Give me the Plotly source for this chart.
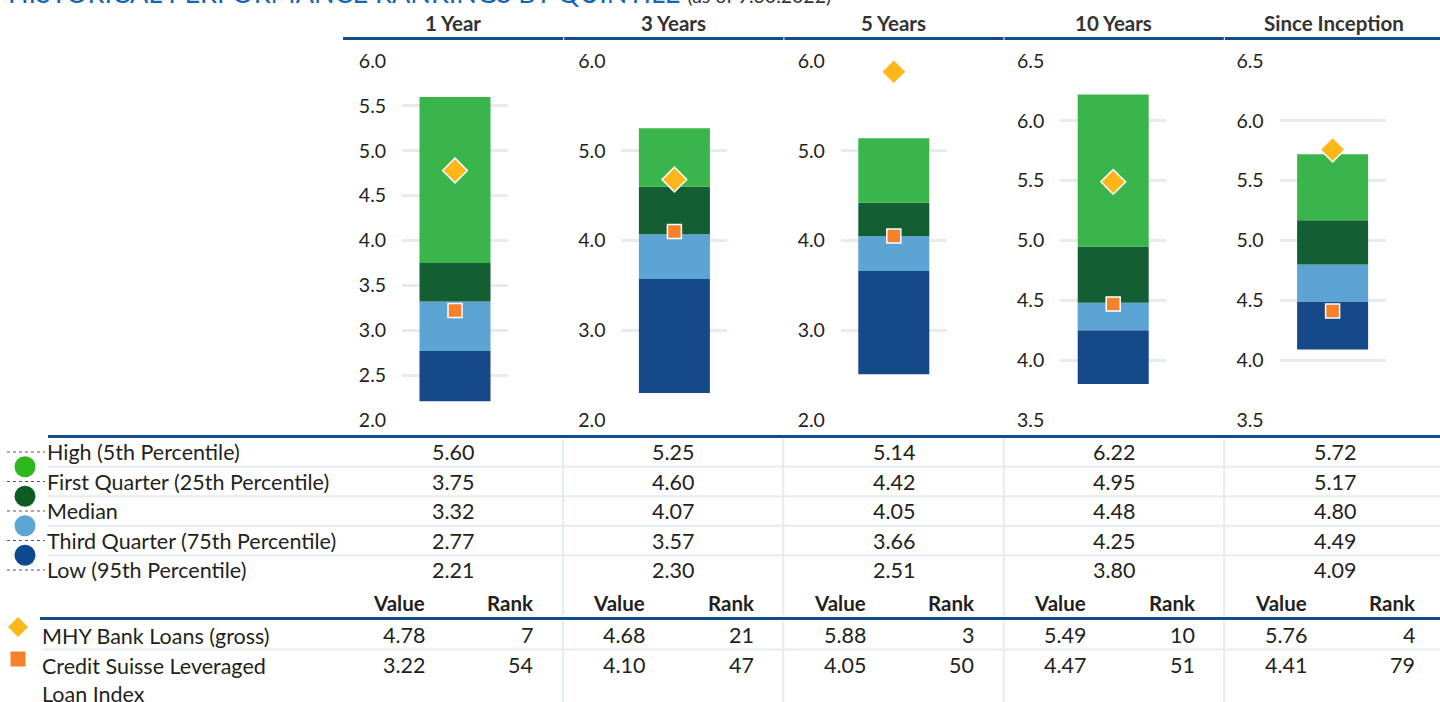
import plotly.graph_objects as go

# ---------------- data ----------------
periods = ["1 Year", "3 Years", "5 Years", "10 Years", "Since Inception"]
high = [5.60, 5.25, 5.14, 6.22, 5.72]
first_q = [3.75, 4.60, 4.42, 4.95, 5.17]
median = [3.32, 4.07, 4.05, 4.48, 4.80]
third_q = [2.77, 3.57, 3.66, 4.25, 4.49]
low = [2.21, 2.30, 2.51, 3.80, 4.09]
mhy_value = [4.78, 4.68, 5.88, 5.49, 5.76]
mhy_rank = [7, 21, 3, 10, 4]
cs_value = [3.22, 4.10, 4.05, 4.47, 4.41]
cs_rank = [54, 47, 50, 51, 79]
y_min = [2.0, 2.0, 2.0, 3.5, 3.5]
y_max = [6.0, 6.0, 6.0, 6.5, 6.5]
y_step = [0.5, 1.0, 1.0, 0.5, 0.5]
quantile_labels = ["High (5th Percentile)", "First Quarter (25th Percentile)", "Median",
                   "Third Quarter (75th Percentile)", "Low (95th Percentile)"]
series_labels = ["MHY Bank Loans (gross)", "Credit Suisse Leveraged<br>Loan Index"]
title_main = "HISTORICAL PERFORMANCE RANKINGS BY QUINTILE"
title_sub = "(as of 9.30.2022)"

# ---------------- styling ----------------
W, H = 1440, 702
C_HIGH = "#3AB54B"
C_Q1 = "#135F33"
C_MED = "#5BA4D4"
C_Q3 = "#154989"
LEG_COLORS = ["#2DB81E", "#0B5D24", "#5CA6D6", "#0D4A8D"]
C_DIAMOND = "#FDB71A"
C_SQUARE = "#F5822A"
BLUE_LINE = "#134C8E"
LIGHT = "#E4ECEE"
TXT = "#231F20"
FONT = "Lato"
FS = 21.5


def X(p):
    return p / W


def Y(p):
    return 1 - p / H


fig = go.Figure()
shapes = []
annotations = []

panel_step = 219.4
for i in range(5):
    ax = "" if i == 0 else str(i + 1)
    xa, ya = "x" + ax, "y" + ax
    segs = [
        (low[i], third_q[i] - low[i], C_Q3),
        (third_q[i], median[i] - third_q[i], C_MED),
        (median[i], first_q[i] - median[i], C_Q1),
        (first_q[i], high[i] - first_q[i], C_HIGH),
    ]
    for base, h, col in segs:
        fig.add_trace(go.Bar(x=[0], y=[h], base=[base], width=0.67, marker_color=col,
                             marker_line_width=0, xaxis=xa, yaxis=ya, hoverinfo="skip"))
    fig.add_trace(go.Scatter(x=[0], y=[cs_value[i]], mode="markers", xaxis=xa, yaxis=ya,
                             marker=dict(symbol="square", size=14, color=C_SQUARE,
                                         line=dict(color="white", width=1.5)),
                             cliponaxis=False, hoverinfo="skip"))
    fig.add_trace(go.Scatter(x=[0], y=[mhy_value[i]], mode="markers", xaxis=xa, yaxis=ya,
                             marker=dict(symbol="diamond", size=19, color=C_DIAMOND,
                                         line=dict(color="white", width=1.5)),
                             cliponaxis=False, hoverinfo="skip"))
    x0 = 402 + panel_step * i
    fig.layout["xaxis" + ax] = dict(domain=[X(x0), X(x0 + 106)], range=[-0.5, 0.5],
                                     visible=False, fixedrange=True, automargin=False)
    fig.layout["yaxis" + ax] = dict(domain=[Y(420), Y(61)], range=[y_min[i], y_max[i]],
                                     dtick=y_step[i], tick0=y_min[i], tickformat=".1f",
                                     anchor=xa, showgrid=True, gridcolor=LIGHT, gridwidth=3,
                                     zeroline=False, showline=False, ticks="outside",
                                     ticklen=11, tickcolor="rgba(0,0,0,0)", automargin=False,
                                     tickfont=dict(family=FONT, size=19.5, color=TXT),
                                     fixedrange=True)

# ---------------- headers ----------------
col_step = 220.2
for i, p in enumerate(periods):
    cx = 453 + col_step * i
    annotations.append(dict(x=X(cx), y=Y(23), xref="paper", yref="paper", text=p,
                            showarrow=False, xanchor="center", yanchor="middle",
                            font=dict(family=FONT, size=20.5, color="#333333", weight="bold")))
    shapes.append(dict(type="line", xref="paper", yref="paper",
                       x0=X(343 + col_step * i + (1 if i else 0)), x1=X(343 + col_step * (i + 1)),
                       y0=Y(38.5), y1=Y(38.5), line=dict(color=BLUE_LINE, width=3)))

# title (cut off at the top edge, as in the reference)
annotations.append(dict(x=X(6), y=Y(-7.5), xref="paper", yref="paper",
                        text=title_main + " <span style='font-size:19.5px;color:#333333'>" + title_sub + "</span>",
                        showarrow=False, xanchor="left", yanchor="middle",
                        font=dict(family=FONT, size=27, color="#1566B0")))

# ---------------- quantile table ----------------
row_y = [452, 481.5, 511, 540.5, 570]
shapes.append(dict(type="line", xref="paper", yref="paper", x0=X(48), x1=X(1440),
                   y0=Y(436.5), y1=Y(436.5), line=dict(color=BLUE_LINE, width=3)))
for k in range(4):
    yy = (row_y[k] + row_y[k + 1]) / 2
    shapes.append(dict(type="line", xref="paper", yref="paper", x0=X(48), x1=X(1440),
                       y0=Y(yy), y1=Y(yy), line=dict(color=LIGHT, width=2)))
for i in range(1, 5):
    vx = 342.5 + 220.4 * i
    shapes.append(dict(type="line", xref="paper", yref="paper", x0=X(vx), x1=X(vx),
                       y0=Y(438.5), y1=Y(615), line=dict(color=LIGHT, width=2)))
    shapes.append(dict(type="line", xref="paper", yref="paper", x0=X(vx), x1=X(vx),
                       y0=Y(621), y1=Y(702), line=dict(color=LIGHT, width=2)))

quant_rows = [high, first_q, median, third_q, low]
for k, lab in enumerate(quantile_labels):
    annotations.append(dict(x=X(45), y=Y(row_y[k]), xref="paper", yref="paper", text=lab,
                            showarrow=False, xanchor="left", yanchor="middle",
                            font=dict(family=FONT, size=FS, color=TXT)))
    shapes.append(dict(type="line", xref="paper", yref="paper", x0=X(7), x1=X(45),
                       y0=Y(row_y[k]), y1=Y(row_y[k]),
                       line=dict(color="#555555", width=1, dash="dot")))
    for i in range(5):
        annotations.append(dict(x=X(452.5 + 220.5 * i), y=Y(row_y[k]), xref="paper", yref="paper",
                                text=f"{quant_rows[k][i]:.2f}", showarrow=False,
                                xanchor="center", yanchor="middle",
                                font=dict(family=FONT, size=FS, color=TXT)))
for k in range(4):
    cy = (row_y[k] + row_y[k + 1]) / 2
    r = 10.5
    shapes.append(dict(type="circle", xref="paper", yref="paper", x0=X(25 - r), x1=X(25 + r),
                       y0=Y(cy + r), y1=Y(cy - r), fillcolor=LEG_COLORS[k], line=dict(width=0)))

# ---------------- series table ----------------
for i in range(5):
    annotations.append(dict(x=X(427 + 220.4 * i), y=Y(603), xref="paper", yref="paper",
                            text="Value", showarrow=False, xanchor="right", yanchor="middle",
                            font=dict(family=FONT, size=20.5, color=TXT, weight="bold")))
    annotations.append(dict(x=X(535 + 220.6 * i), y=Y(603), xref="paper", yref="paper",
                            text="Rank", showarrow=False, xanchor="right", yanchor="middle",
                            font=dict(family=FONT, size=20.5, color=TXT, weight="bold")))
shapes.append(dict(type="line", xref="paper", yref="paper", x0=X(40), x1=X(1440),
                   y0=Y(618.5), y1=Y(618.5), line=dict(color=BLUE_LINE, width=3)))
shapes.append(dict(type="line", xref="paper", yref="paper", x0=X(43), x1=X(1440),
                   y0=Y(649.5), y1=Y(649.5), line=dict(color=LIGHT, width=2)))

ser_y = [635, 665]
ser_vals = [mhy_value, cs_value]
ser_ranks = [mhy_rank, cs_rank]
for k in range(2):
    annotations.append(dict(x=X(40), y=Y(ser_y[k] - 14), xref="paper", yref="paper",
                            text=series_labels[k], showarrow=False, xanchor="left", yanchor="top",
                            align="left", font=dict(family=FONT, size=FS, color=TXT)))
    for i in range(5):
        annotations.append(dict(x=X(427 + 220.4 * i), y=Y(ser_y[k]), xref="paper", yref="paper",
                                text=f"{ser_vals[k][i]:.2f}", showarrow=False,
                                xanchor="right", yanchor="middle",
                                font=dict(family=FONT, size=FS, color=TXT)))
        annotations.append(dict(x=X(535 + 220.6 * i), y=Y(ser_y[k]), xref="paper", yref="paper",
                                text=str(ser_ranks[k][i]), showarrow=False,
                                xanchor="right", yanchor="middle",
                                font=dict(family=FONT, size=FS, color=TXT)))

# legend glyphs for the two series
d = 10
shapes.append(dict(type="path", xref="paper", yref="paper",
                   path=f"M {X(18)} {Y(627 - d)} L {X(18 + d)} {Y(627)} L {X(18)} {Y(627 + d)} L {X(18 - d)} {Y(627)} Z",
                   fillcolor=C_DIAMOND, line=dict(width=0)))
s = 7.5
shapes.append(dict(type="rect", xref="paper", yref="paper", x0=X(18 - s), x1=X(18 + s),
                   y0=Y(659 + s), y1=Y(659 - s), fillcolor=C_SQUARE, line=dict(width=0)))

fig.update_layout(width=W, height=H, margin=dict(l=0, r=0, t=0, b=0, pad=0, autoexpand=False),
                  paper_bgcolor="white", plot_bgcolor="white", showlegend=False,
                  barmode="overlay", font=dict(family=FONT, color=TXT),
                  shapes=shapes, annotations=annotations)

fig.write_html("out.html", config={"displayModeBar": False},
               post_script="document.body.style.margin='0';document.body.style.overflow='hidden';")
